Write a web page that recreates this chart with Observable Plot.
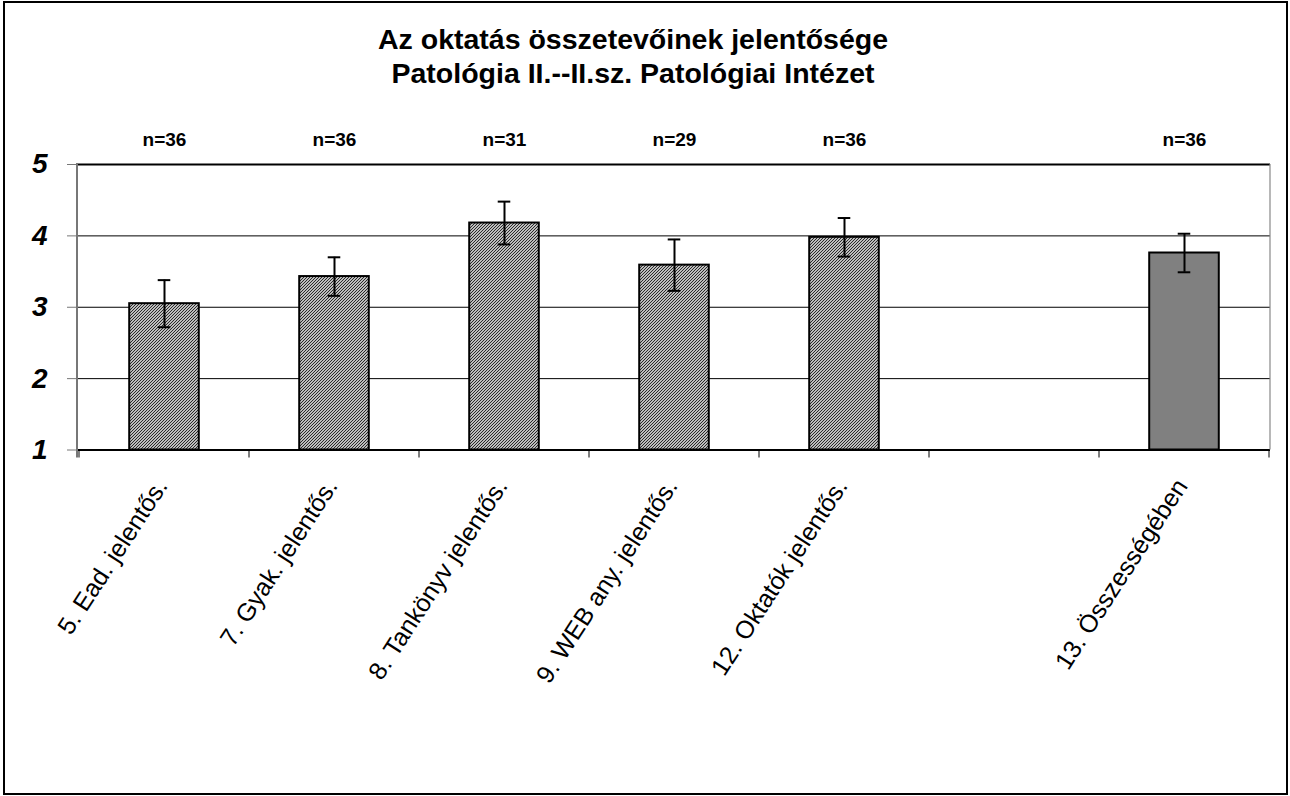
<!DOCTYPE html>
<html>
<head>
<meta charset="utf-8">
<script src="https://cdn.jsdelivr.net/npm/d3@7"></script>
<script src="https://cdn.jsdelivr.net/npm/@observablehq/plot@0.6"></script>
<style>
  html, body { margin: 0; padding: 0; background: #fff; }
  #chart { position: relative; width: 1290px; height: 796px; overflow: hidden; font-family: "Liberation Sans", Arial, sans-serif; }
  #border { position: absolute; left: 3px; top: 1px; width: 1285px; height: 794px; box-sizing: border-box; border: 2px solid #000; }
  #title { position: absolute; left: 0; top: 22px; width: 1266px; text-align: center; font-weight: bold; font-size: 28.5px; line-height: 34px; color: #000; }
  #plot { position: absolute; left: 0; top: 110px; }
</style>
</head>
<body>
<div id="chart">
  <div id="border"></div>
  <div id="title">Az oktatás összetevőinek jelentősége<br>Patológia II.--II.sz. Patológiai Intézet</div>
  <div id="plot"></div>
</div>
<script>
// ---- data ----
const categories = ["5. Ead. jelentős.", "7. Gyak. jelentős.", "8. Tankönyv jelentős.", "9. WEB any. jelentős.", "12. Oktatók jelentős.", "13. Összességében"];
const means = [3.05, 3.43, 4.18, 3.59, 3.98, 3.76];
const errors = [0.33, 0.27, 0.30, 0.36, 0.27, 0.27];
const counts = [36, 36, 31, 29, 36, 36];
const slots = ["5. Ead. jelentős.", "7. Gyak. jelentős.", "8. Tankönyv jelentős.", "9. WEB any. jelentős.", "12. Oktatók jelentős.", "", "13. Összességében"];
const yTicks = [1, 2, 3, 4, 5];
const gridValues = [2, 3, 4];

const rows = categories.map((c, i) => ({cat: c, mean: means[i], err: errors[i], n: counts[i], total: i === categories.length - 1}));
const patterned = rows.filter(d => !d.total);
const totals = rows.filter(d => d.total);

// ---- layout ----
const W = 1290, H = 686, ML = 77, MR = 20, MT = 54, MB = 346.5;
const bw = (W - ML - MR) / slots.length;
const barInset = (bw - 70) / 2;
const capInset = (bw - 13) / 2;

const defsMark = () => {
  const svg = d3.create("svg:g");
  const pat = svg.append("defs").append("pattern")
    .attr("id", "hatch").attr("patternUnits", "userSpaceOnUse")
    .attr("width", 3).attr("height", 3);
  pat.append("rect").attr("width", 3).attr("height", 3).attr("fill", "#bdbdbd");
  pat.append("path").attr("d", "M-1,1 l2,-2 M0,3 l3,-3 M2,4 l2,-2")
    .attr("stroke", "#2a2a2a").attr("stroke-width", 1);
  return svg.node();
};

const frameMark = (index, scales, values, dims) => {
  const x = scales.x;
  const step = x.bandwidth ? x.bandwidth() : bw;
  const yb = dims.height - dims.marginBottom;
  const yt = dims.marginTop;
  const xl = dims.marginLeft;
  const xr = dims.width - dims.marginRight;
  const g = d3.create("svg:g");
  const bounds = slots.map(s => x(s)).concat([x(slots[slots.length - 1]) + step]);
  g.selectAll("line.tick").data(bounds).join("line")
    .attr("x1", d => d).attr("x2", d => d).attr("y1", yb).attr("y2", yb + 8)
    .attr("stroke", "#000").attr("stroke-width", 1);
  g.append("line").attr("x1", xr).attr("x2", xr).attr("y1", yt).attr("y2", yb)
    .attr("stroke", "#888").attr("stroke-width", 1.2);
  g.append("line").attr("x1", xl).attr("x2", xl).attr("y1", yt - 1).attr("y2", yb + 8)
    .attr("stroke", "#777").attr("stroke-width", 2);
  return g.node();
};

const chart = Plot.plot({
  width: W,
  height: H,
  marginLeft: ML,
  marginRight: MR,
  marginTop: MT,
  marginBottom: MB,
  style: {fontFamily: "'Liberation Sans', Arial, sans-serif", background: "transparent", color: "#000", overflow: "visible"},
  x: {domain: slots, padding: 0, axis: null},
  y: {domain: [1, 5], axis: null},
  marks: [
    defsMark,
    Plot.ruleY(gridValues, {stroke: "#000", strokeWidth: 1}),
    Plot.barY(patterned, {x: "cat", y1: 1, y2: "mean", fill: "url(#hatch)", stroke: "#000", strokeWidth: 2, insetLeft: barInset, insetRight: barInset}),
    Plot.barY(totals, {x: "cat", y1: 1, y2: "mean", fill: "#808080", stroke: "#000", strokeWidth: 2, insetLeft: barInset, insetRight: barInset}),
    Plot.ruleX(rows, {x: "cat", y1: d => d.mean - d.err, y2: d => d.mean + d.err, stroke: "#000", strokeWidth: 2}),
    Plot.tickY(rows, {x: "cat", y: d => d.mean + d.err, stroke: "#000", strokeWidth: 2, insetLeft: capInset, insetRight: capInset}),
    Plot.tickY(rows, {x: "cat", y: d => d.mean - d.err, stroke: "#000", strokeWidth: 2, insetLeft: capInset, insetRight: capInset}),
    Plot.ruleY([5], {stroke: "#000", strokeWidth: 2}),
    Plot.ruleY([1], {stroke: "#000", strokeWidth: 2}),
    frameMark,
    Plot.axisY({ticks: yTicks, label: null, tickFormat: d => String(d), tickSize: 10, tickPadding: 20, fontSize: 28, fontWeight: "bold", fontStyle: "italic", stroke: "#777", fill: "#000"}),
    Plot.text(rows, {x: "cat", text: d => "n=" + d.n, frameAnchor: "top", lineAnchor: "bottom", dy: -19, fontSize: 19, fontWeight: "bold", fill: "#000"}),
    Plot.text(categories, {x: d => d, text: d => d, frameAnchor: "bottom", lineAnchor: "bottom", textAnchor: "end", rotate: -57, dx: 4, dy: 36, fontSize: 25, fill: "#000"})
  ]
});
document.getElementById("plot").appendChild(chart);
</script>
</body>
</html>
